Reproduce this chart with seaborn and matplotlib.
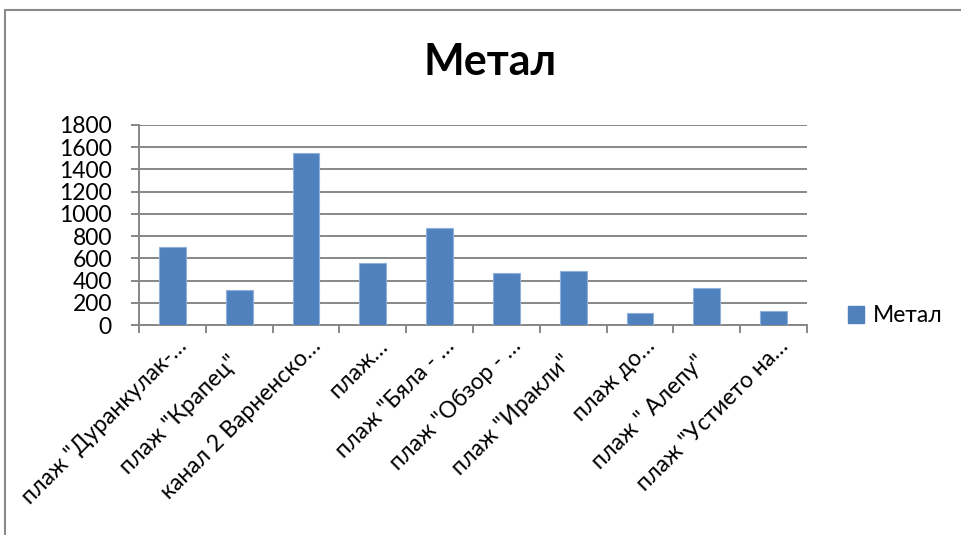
import matplotlib
matplotlib.use("Agg")
import matplotlib.pyplot as plt
from matplotlib.lines import Line2D
from matplotlib.patches import Patch
from matplotlib.transforms import ScaledTranslation
import seaborn as sns

categories = [
    'плаж "Дуранкулак-…',
    'плаж "Крапец"',
    'канал 2 Варненско…',
    'плаж…',
    'плаж "Бяла - …',
    'плаж "Обзор - …',
    'плаж "Иракли"',
    'плаж до…',
    'плаж " Алепу"',
    'плаж "Устието на…',
]
values = [705, 315, 1545, 555, 873, 465, 483, 105, 333, 126]
series_name = "Метал"
title = "Метал"
yticks = [0, 200, 400, 600, 800, 1000, 1200, 1400, 1600, 1800]

sns.set_style("white")
plt.rcParams['font.family'] = ['Lato', 'Noto Sans', 'DejaVu Sans']
plt.rcParams['text.color'] = 'black'
plt.rcParams['xtick.color'] = 'black'
plt.rcParams['ytick.color'] = 'black'

W, H = 962, 535
fig = plt.figure(figsize=(W / 100, H / 100), dpi=100)
ax = fig.add_axes([139 / W, 1 - 325 / H, (807 - 139) / W, 200 / H])

bar_color = "#4f81bd"
sns.barplot(x=categories, y=values, color=bar_color, width=0.4, ax=ax,
            edgecolor="#8fb0da", linewidth=0.8, zorder=3, saturation=1)

grid_c = "#878787"
ax.set_ylim(0, 1800)
ax.set_yticks(yticks)
ax.set_yticklabels([str(v) for v in yticks], fontsize=16.5)
ax.yaxis.grid(True, color=grid_c, linewidth=1.4, zorder=0)
ax.set_axisbelow(True)
ax.set_xlim(-0.5, len(categories) - 0.5)

for s in ["top", "right"]:
    ax.spines[s].set_visible(False)
for s in ["left", "bottom"]:
    ax.spines[s].set_color(grid_c)
    ax.spines[s].set_linewidth(1.4)

ax.tick_params(axis="y", length=6, width=1.4, color=grid_c, pad=13.5, left=True,
               labelcolor="black")
# category boundary ticks
ax.set_xticks([i - 0.5 for i in range(len(categories) + 1)], minor=False)
ax.set_xticklabels([])
ax.tick_params(axis="x", which="major", length=6, width=1.4, color=grid_c, bottom=True)
ax.set_xticks(range(len(categories)), minor=True)
ax.set_xticklabels(categories, minor=True, rotation=45, ha="right",
                   va="baseline", rotation_mode="anchor", fontsize=16.5,
                   color="black")
ax.tick_params(axis="x", which="minor", length=0, pad=16)
for lab in ax.get_xticklabels(minor=True):
    if lab.get_text().endswith("…"):
        off = ScaledTranslation(0.16, 0, fig.dpi_scale_trans)
    else:
        off = ScaledTranslation(0.0, -0.16, fig.dpi_scale_trans)
    lab.set_transform(lab.get_transform() + off)
ax.set_xlabel("")
ax.set_ylabel("")

fig.text(490 / W, 1 - 62 / H, title, ha="center", va="center",
         fontsize=31, fontweight="bold", color="black")

handle = Patch(facecolor=bar_color, edgecolor=bar_color)
fig.legend([handle], [series_name], loc="center left",
           bbox_to_anchor=(848 / W, 1 - 316 / H), frameon=False,
           fontsize=16.5, handlelength=0.7, handleheight=0.7,
           handletextpad=0.4, borderaxespad=0, borderpad=0)

# chart frame
fc = "#8a8a8a"
fig.add_artist(Line2D([5 / W, 5 / W], [0, 1 - 10 / H], color=fc, linewidth=1.5,
                      transform=fig.transFigure))
fig.add_artist(Line2D([5 / W, 1], [1 - 10 / H, 1 - 10 / H], color=fc, linewidth=1.5,
                      transform=fig.transFigure))

fig.savefig("out.png", dpi=100)
